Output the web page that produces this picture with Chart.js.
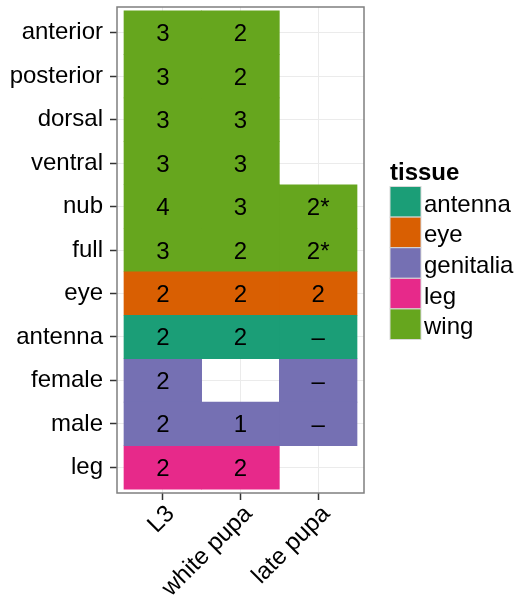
<!DOCTYPE html>
<html>
<head>
<meta charset="utf-8">
<script src="https://cdn.jsdelivr.net/npm/chart.js@4/dist/chart.umd.min.js"></script>
<style>
  html, body { margin: 0; padding: 0; background: #fff; }
  canvas { display: block; }
</style>
</head>
<body>
<canvas id="myChart" width="519" height="603"></canvas>
<script>
const stages = ["L3", "white pupa", "late pupa"];
const parts = ["anterior", "posterior", "dorsal", "ventral", "nub", "full", "eye", "antenna", "female", "male", "leg"];
const partTissue = ["wing", "wing", "wing", "wing", "wing", "wing", "eye", "antenna", "genitalia", "genitalia", "leg"];
const l3Counts = ["3", "3", "3", "3", "4", "3", "2", "2", "2", "2", "2"];
const whitePupaCounts = ["2", "2", "3", "3", "3", "2", "2", "2", null, "1", "2"];
const latePupaCounts = [null, null, null, null, "2*", "2*", "2", "–", "–", "–", null];
const tissues = ["antenna", "eye", "genitalia", "leg", "wing"];
const tissueColors = ["#1B9E77", "#D95F02", "#7570B3", "#E7298A", "#66A61E"];

const counts = [l3Counts, whitePupaCounts, latePupaCounts];
const FONT = "'Liberation Sans', Arial, sans-serif";

// one dataset per tissue, one floating bar per tile
const datasets = tissues.map((tissue, t) => {
  const data = [];
  parts.forEach((part, r) => {
    if (partTissue[r] !== tissue) return;
    counts.forEach((col, c) => {
      if (col[r] !== null) data.push({ y: r, x: [c - 0.5, c + 0.5] });
    });
  });
  return {
    label: tissue,
    data: data,
    backgroundColor: tissueColors[t],
    borderWidth: 0,
    grouped: false,
    categoryPercentage: 1,
    barPercentage: 1
  };
});

const tileText = {
  id: "tileText",
  afterDatasetsDraw(chart) {
    const ctx = chart.ctx;
    const xs = chart.scales.x, ys = chart.scales.y;
    ctx.save();
    ctx.font = "24px " + FONT;
    ctx.fillStyle = "#000";
    ctx.textAlign = "center";
    ctx.textBaseline = "alphabetic";
    counts.forEach((col, c) => {
      col.forEach((txt, r) => {
        if (txt === null) return;
        ctx.fillText(txt, xs.getPixelForValue(c), ys.getPixelForValue(r) + 8.5);
      });
    });
    ctx.restore();
  }
};

const panelBox = {
  id: "panelBox",
  afterDatasetsDraw(chart) {
    const a = chart.chartArea;
    const ctx = chart.ctx;
    ctx.save();
    ctx.strokeStyle = "#7F7F7F";
    ctx.lineWidth = 1.5;
    ctx.strokeRect(a.left, a.top, a.right - a.left, a.bottom - a.top);
    ctx.restore();
  }
};

const sideLegend = {
  id: "sideLegend",
  afterDraw(chart) {
    const ctx = chart.ctx;
    const x0 = 390, top = 186.5, kw = 31, kh = 30.6;
    ctx.save();
    ctx.fillStyle = "#000";
    ctx.font = "bold 24px " + FONT;
    ctx.textAlign = "left";
    ctx.textBaseline = "alphabetic";
    ctx.fillText("tissue", x0, 180);
    ctx.font = "24px " + FONT;
    tissues.forEach((tissue, i) => {
      const y = top + i * kh;
      ctx.fillStyle = tissueColors[i];
      ctx.fillRect(x0, y, kw, kh);
      ctx.strokeStyle = "#D9D9D9";
      ctx.lineWidth = 1;
      ctx.strokeRect(x0, y, kw, kh);
      ctx.fillStyle = "#000";
      ctx.fillText(tissue, x0 + 34, y + kh / 2 + 10);
    });
    ctx.restore();
  }
};

const ctx = document.getElementById("myChart").getContext("2d");
const myChart = new Chart(ctx, {
  type: "bar",
  data: { datasets: datasets },
  options: {
    indexAxis: "y",
    responsive: false,
    animation: false,
    layout: { padding: { top: 7, right: 155, left: 0, bottom: 0 } },
    plugins: { legend: { display: false }, tooltip: { enabled: false } },
    scales: {
      x: {
        type: "linear",
        position: "bottom",
        offset: false,
        min: -0.59,
        max: 2.59,
        afterBuildTicks(scale) {
          scale.ticks = stages.map((s, i) => ({ value: i }));
        },
        afterFit(scale) {
          scale.height = 110;
          scale.paddingLeft = 0;
          scale.paddingRight = 0;
        },
        ticks: {
          autoSkip: false,
          minRotation: 45,
          maxRotation: 45,
          padding: 0,
          labelOffset: 8,
          color: "#000",
          font: { family: FONT, size: 24 },
          callback: (v, i) => stages[i]
        },
        grid: { offset: false, color: "#EBEBEB", lineWidth: 1, tickColor: "#333", tickLength: 7, tickWidth: 1.5 },
        border: { display: false }
      },
      y: {
        type: "linear",
        position: "left",
        offset: false,
        reverse: true,
        min: -0.59,
        max: 10.59,
        afterBuildTicks(scale) {
          scale.ticks = parts.map((p, i) => ({ value: i }));
        },
        afterFit(scale) {
          scale.width = 117;
          scale.paddingTop = 0;
          scale.paddingBottom = 0;
        },
        ticks: {
          autoSkip: false,
          padding: 7,
          color: "#000",
          font: { family: FONT, size: 24 },
          callback: (v, i) => parts[i]
        },
        grid: { offset: false, color: "#EBEBEB", lineWidth: 1, tickColor: "#333", tickLength: 7, tickWidth: 1.5 },
        border: { display: false }
      }
    }
  },
  plugins: [tileText, panelBox, sideLegend]
});
</script>
</body>
</html>
